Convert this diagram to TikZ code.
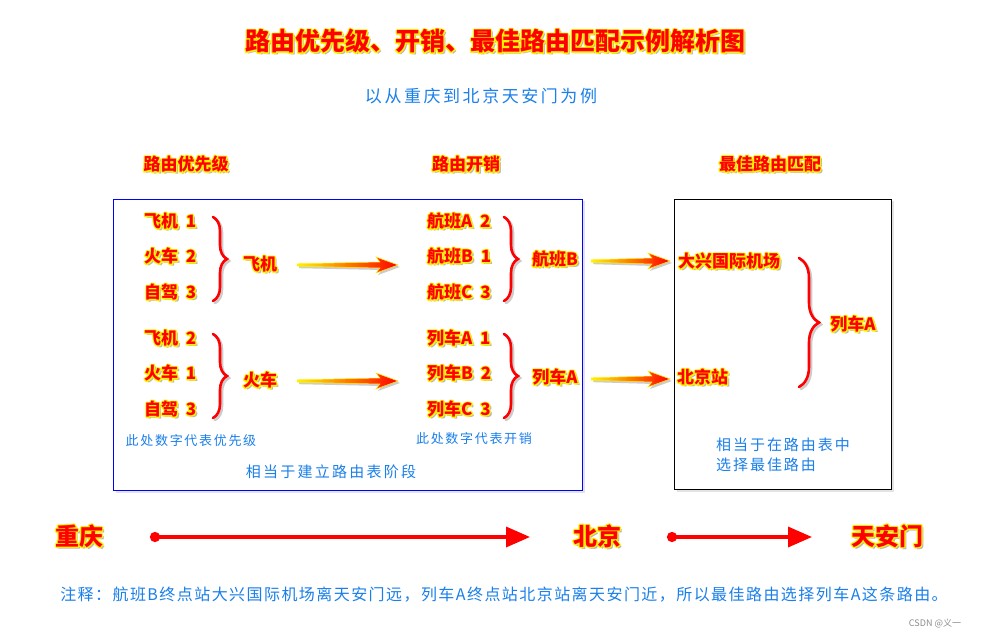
\documentclass[tikz,border=0pt]{standalone}
\usepackage{fontspec}
\setmainfont{Noto Sans CJK SC}
\usepackage{xcolor}
\usetikzlibrary{arrows.meta, positioning, calc, decorations.pathreplacing, shadows}
\definecolor{RouteRed}{HTML}{FF0000}
\definecolor{GlowYellow}{HTML}{FFF200}
\definecolor{NoteBlue}{HTML}{1A7FEA}

% red text with a yellow rim and a soft shadow
\newcommand{\glowtext}[1]{%
  \makebox[0pt][l]{\hspace{2.2pt}\raisebox{-2.2pt}{\textcolor{black!28}{#1}}}%
  \makebox[0pt][l]{\special{pdf:literal direct q 1 Tr 2.4 w 1 J 1 j 1 0.95 0 RG}#1\special{pdf:literal direct Q}}%
  \textcolor{RouteRed}{#1}}
% outline of the shaded arrows
\newcommand{\arrowpath}[2]{($(#1)+(0,-1.2)$) -- ($(#2)+(-18,-3)$) -- ($(#2)+(-22,-8)$) -- (#2) -- ($(#2)+(-22,8)$) -- ($(#2)+(-18,3)$) -- ($(#1)+(0,1.2)$) -- cycle}
\newcommand{\gradarrow}[2]{%
  \path[fill=black!20, transform canvas={xshift=2pt, yshift=-2pt}] \arrowpath{#1}{#2};
  \path[fatarrow] \arrowpath{#1}{#2};}
\newcommand{\curlybrace}[3]{%
  \draw[curly, draw=black!20, decoration={amplitude=#3}, transform canvas={xshift=2pt, yshift=-2pt}] (#1) -- (#2);
  \draw[curly, decoration={amplitude=#3}] (#1) -- (#2);}

\begin{document}
\begin{tikzpicture}[x=1pt, y=-1pt,
  hot/.style={inner sep=1pt, font=\fontsize{17}{20}\selectfont\bfseries},
  item/.style={hot, anchor=west},
  note/.style={inner sep=1pt, text=NoteBlue},
  stagebox/.style={fill=white, line width=0.8pt, inner sep=0pt,
    drop shadow={opacity=0.22, shadow xshift=2.5pt, shadow yshift=-2.5pt}},
  curly/.style={decorate, decoration={brace, amplitude=14pt, aspect=0.5},
    line width=2.6pt, RouteRed, line cap=round},
  fatarrow/.style={left color=GlowYellow, right color=RouteRed, draw=GlowYellow, line width=0.5pt},
  route/.style={RouteRed, line width=3.5pt, {Circle[length=10pt]}-{Triangle[length=24pt, width=20pt]}}
]
\fill[white] (0,0) rectangle (991,639);
\useasboundingbox (0,0) rectangle (991,639);

% titles
\node[hot, font=\fontsize{25}{30}\selectfont\bfseries] (title) at (495,42)
  {\glowtext{路由优先级、开销、最佳路由匹配示例解析图}};
\node[note, font=\fontsize{17}{20}\selectfont\addfontfeature{LetterSpace=15}] (sub) at (481,96)
  {以从重庆到北京天安门为例};
\node[hot] (h1) at (186,165) {\glowtext{路由优先级}};
\node[hot] (h2) at (466,165) {\glowtext{路由开销}};
\node[hot] (h3) at (770,165) {\glowtext{最佳路由匹配}};

% frames
\node[stagebox, draw=blue, minimum width=469pt, minimum height=291pt] (stage) at (347.5,344.5) {};
\node[stagebox, draw=black, minimum width=217pt, minimum height=290pt] (pick) at (782.5,344) {};

% priority
\node[item] (pa1) at (143,222) {\glowtext{飞机\ \ 1}};
\node[item] (pa2) at (143,257) {\glowtext{火车\ \ 2}};
\node[item] (pa3) at (143,293) {\glowtext{自驾\ \ 3}};
\node[item] (pb1) at (143,339) {\glowtext{飞机\ \ 2}};
\node[item] (pb2) at (143,374) {\glowtext{火车\ \ 1}};
\node[item] (pb3) at (143,410) {\glowtext{自驾\ \ 3}};
\curlybrace{213,217}{213,301}{14pt}
\curlybrace{213,334}{213,418}{14pt}
\node[hot] (pl) at (260,265) {\glowtext{飞机}};
\node[hot] (tr) at (260,381) {\glowtext{火车}};

% cost
\node[item] (fa) at (426,222) {\glowtext{航班A\ \ 2}};
\node[item] (fb) at (426,257) {\glowtext{航班B\ \ 1}};
\node[item] (fc) at (426,293) {\glowtext{航班C\ \ 3}};
\node[item] (ta) at (426,339) {\glowtext{列车A\ \ 1}};
\node[item] (tb) at (426,374) {\glowtext{列车B\ \ 2}};
\node[item] (tc) at (426,410) {\glowtext{列车C\ \ 3}};
\curlybrace{504,217}{504,301}{14pt}
\curlybrace{504,334}{504,418}{14pt}
\node[hot] (fbest) at (555,260) {\glowtext{航班B}};
\node[hot] (tbest) at (555,378) {\glowtext{列车A}};

\coordinate (a1s) at ($(pl.center)+(37,0)$);
\coordinate (a1e) at ($(fb.west |- pl.center)+(-28,0)$);
\coordinate (a2s) at ($(tr.center)+(37,0)$);
\coordinate (a2e) at ($(tb.west |- tr.center)+(-28,0)$);
\gradarrow{a1s}{a1e}
\gradarrow{a2s}{a2e}

\node[note, font=\fontsize{13}{15}\selectfont\addfontfeature{LetterSpace=13}] (n1) at (191,441) {此处数字代表优先级};
\node[note, font=\fontsize{13}{15}\selectfont\addfontfeature{LetterSpace=13}] (n2) at (474,439) {此处数字代表开销};
\node[note, font=\fontsize{15}{17}\selectfont\addfontfeature{LetterSpace=15}] (n3) at (331,472) {相当于建立路由表阶段};

% best match
\node[item] (dx) at (677,262) {\glowtext{大兴国际机场}};
\node[item] (bjz) at (676,378) {\glowtext{北京站}};
\curlybrace{799,258}{799,387}{20pt}
\node[hot] (rbest) at (853,325) {\glowtext{列车A}};
\coordinate (a3s) at ($(stage.east |- fbest.center)+(9,1)$);
\coordinate (a3e) at ($(dx.west |- a3s)+(-7,0)$);
\coordinate (a4s) at ($(stage.east |- tbest.center)+(9,1)$);
\coordinate (a4e) at ($(bjz.west |- a4s)+(-6,0)$);
\gradarrow{a3s}{a3e}
\gradarrow{a4s}{a4e}
\node[note, anchor=west, align=left, font=\fontsize{15}{20}\selectfont\addfontfeature{LetterSpace=13}] (n4) at (715,455)
  {相当于在路由表中\\选择最佳路由};

% journey
\node[hot, font=\fontsize{24}{28}\selectfont\bfseries] (cq) at (79,537) {\glowtext{重庆}};
\node[hot, font=\fontsize{24}{28}\selectfont\bfseries] (bj) at (597,537) {\glowtext{北京}};
\node[hot, font=\fontsize{24}{28}\selectfont\bfseries] (tam) at (887,537) {\glowtext{天安门}};
\draw[route] ([xshift=71pt]cq.center) -- ([xshift=-67pt]bj.center);
\draw[route] ([xshift=70pt]bj.center) -- ([xshift=-75pt]tam.center);

\node[note, font=\fontsize{16}{19}\selectfont\addfontfeature{LetterSpace=9}] (foot) at (504,595)
  {注释：航班B终点站大兴国际机场离天安门远，列车A终点站北京站离天安门近，所以最佳路由选择列车A这条路由。};
\node[inner sep=1pt, text=black!45, font=\fontsize{9}{11}\selectfont] (mark) at (935,623) {CSDN @义一};
\end{tikzpicture}
\end{document}
